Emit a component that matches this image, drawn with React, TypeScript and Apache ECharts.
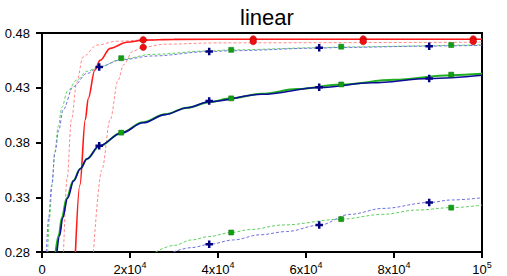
import React, { useEffect, useRef } from "react";
import * as echarts from "echarts";

const titleText = "linear";
const xTicks = [0, 20000, 40000, 60000, 80000, 100000];
const yTicks = [0.28, 0.33, 0.38, 0.43, 0.48];

// Curves (x, y)
const redSolid: number[][] = [
  [7600, 0.28], [8600, 0.341], [9850, 0.401], [10500, 0.42], [12000, 0.446], [13200, 0.455],
  [15500, 0.466], [19300, 0.4715], [23000, 0.4735], [30000, 0.4742], [50000, 0.4743], [100000, 0.4743],
];
const redDashEarly: number[][] = [
  [4900, 0.28], [5700, 0.347], [6700, 0.401], [7900, 0.435], [9300, 0.458], [12500, 0.469],
  [17000, 0.4725], [25000, 0.474], [50000, 0.4743], [100000, 0.4743],
];
const redDashLate: number[][] = [
  [11700, 0.28], [13600, 0.355], [15500, 0.401], [17300, 0.437], [18500, 0.451], [20700, 0.4635],
  [23000, 0.467], [28000, 0.4698], [40000, 0.471], [100000, 0.4716],
];
const greenUpper: number[][] = [
  [1300, 0.28], [1700, 0.311], [2300, 0.341], [2900, 0.371], [3700, 0.395], [4500, 0.412],
  [5800, 0.427], [7900, 0.437], [10200, 0.445], [13000, 0.449], [18000, 0.456], [25000, 0.4605],
  [38000, 0.4636], [43000, 0.4646], [63000, 0.4665], [68000, 0.4672], [88000, 0.4682],
  [93000, 0.4688], [100000, 0.4692],
];
const blueUpper: number[][] = [
  [1000, 0.28], [1500, 0.311], [2200, 0.341], [2950, 0.371], [3800, 0.391], [4800, 0.41],
  [7100, 0.431], [10200, 0.443], [13000, 0.449], [18000, 0.4555], [25000, 0.459], [38000, 0.463],
  [43000, 0.4638], [63000, 0.4662], [68000, 0.4668], [88000, 0.468], [93000, 0.4683], [100000, 0.4688],
];
const greenSolid: number[][] = [
  [3100, 0.28], [3800, 0.295], [4500, 0.311], [5600, 0.329], [7100, 0.345], [8700, 0.356],
  [10200, 0.365], [13000, 0.3765], [18000, 0.389], [23000, 0.3985], [28000, 0.4058], [33000, 0.4118],
  [38000, 0.4168], [43000, 0.4203], [50000, 0.4245], [58000, 0.4288], [68000, 0.433], [80000, 0.4372],
  [93000, 0.4415], [100000, 0.4428],
];
const blueSolid: number[][] = [
  [3400, 0.28], [4000, 0.295], [4700, 0.311], [5800, 0.329], [7200, 0.345], [8700, 0.356],
  [10200, 0.365], [13000, 0.377], [18000, 0.3885], [23000, 0.398], [28000, 0.4055], [33000, 0.4118],
  [38000, 0.4172], [50000, 0.424], [63000, 0.4302], [75000, 0.4345], [88000, 0.4384],
  [100000, 0.4414],
];
const greenLower: number[][] = [
  [25800, 0.28], [30000, 0.286], [34000, 0.291], [37800, 0.294], [43000, 0.2978], [47300, 0.3005],
  [54800, 0.3047], [68000, 0.31], [77500, 0.3144], [85200, 0.3183], [93000, 0.3205], [100000, 0.3228],
];
const blueLower: number[][] = [
  [29800, 0.28], [34000, 0.284], [38000, 0.287], [43500, 0.291], [49500, 0.2957], [55600, 0.2987],
  [63000, 0.3045], [70000, 0.3144], [77500, 0.3198], [88000, 0.3252], [93000, 0.3275], [100000, 0.3295],
];

// Markers
const redCircles: number[][] = [
  [23000, 0.4737], [23000, 0.467],
  [48000, 0.4745], [48000, 0.4722], [73000, 0.4745], [73000, 0.4722], [98000, 0.4745], [98000, 0.4722],
];
const bluePlus: number[][] = [
  [13000, 0.449], [38000, 0.463], [63000, 0.4665], [88000, 0.468],
  [13000, 0.377], [38000, 0.4178], [63000, 0.4305], [88000, 0.4384],
  [38000, 0.287], [63000, 0.3047], [88000, 0.3252],
];
const greenSquares: number[][] = [
  [18000, 0.457], [43000, 0.4646], [68000, 0.4675], [93000, 0.469],
  [18000, 0.389], [43000, 0.4203], [68000, 0.433], [93000, 0.442],
  [43000, 0.2978], [68000, 0.31], [93000, 0.3205],
];

const FONT = "Liberation Sans, Arial, sans-serif";
const PLUS = "path://M3,0 L6,0 L6,3 L9,3 L9,6 L6,6 L6,9 L3,9 L3,6 L0,6 L0,3 L3,3 Z";

function lineSeries(data: number[][], color: string, width: number, dashed: boolean, z: number) {
  return {
    type: "line",
    data,
    showSymbol: false,
    symbol: "none",
    smooth: 0.35,
    smoothMonotone: "x",
    clip: true,
    z,
    lineStyle: { color, width, type: dashed ? [3, 2] : "solid" },
  };
}

export default function App() {
  const ref = useRef<HTMLDivElement>(null);
  useEffect(() => {
    if (!ref.current) return;
    const chart = echarts.init(ref.current, undefined, { renderer: "svg" });
    chart.setOption({
      animation: false,
      backgroundColor: "#fff",
      title: {
        text: titleText,
        left: 235,
        top: 1,
        textStyle: { fontFamily: FONT, fontSize: 22, fontWeight: "normal", color: "#000" },
      },
      grid: {
        left: 42, right: 25, top: 33, bottom: 22,
        show: true, borderColor: "#000", borderWidth: 2, containLabel: false,
      },
      xAxis: {
        type: "value",
        min: xTicks[0],
        max: xTicks[xTicks.length - 1],
        interval: 20000,
        axisLine: { lineStyle: { color: "#000", width: 2 } },
        axisTick: { show: true, inside: false, length: 6, lineStyle: { color: "#000", width: 2 } },
        splitLine: { show: false },
        axisLabel: {
          margin: 8,
          color: "#000",
          fontFamily: FONT,
          fontSize: 13,
          formatter: (v: number) => {
            if (v === 0) return "{b|0}";
            if (v === 100000) return "{b|10}{s|5}";
            return "{b|" + Math.round(v / 10000) + "x10}{s|4}";
          },
          rich: {
            b: { fontFamily: FONT, fontSize: 13, color: "#000", verticalAlign: "bottom", lineHeight: 16 },
            s: { fontFamily: FONT, fontSize: 9, color: "#000", verticalAlign: "top", lineHeight: 16 },
          },
        },
      },
      yAxis: {
        type: "value",
        min: yTicks[0],
        max: yTicks[yTicks.length - 1],
        interval: 0.05,
        axisLine: { lineStyle: { color: "#000", width: 2 } },
        axisTick: { show: true, inside: false, length: 6, lineStyle: { color: "#000", width: 2 } },
        splitLine: { show: false },
        axisLabel: {
          margin: 12,
          color: "#000",
          fontFamily: FONT,
          fontSize: 13,
          formatter: (v: number) => v.toFixed(2),
        },
      },
      series: [
        lineSeries(redDashEarly, "#ff8a8a", 1, true, 2),
        lineSeries(redDashLate, "#ff8a8a", 1, true, 2),
        lineSeries(greenUpper, "#5fd05f", 1, true, 2),
        lineSeries(blueUpper, "#7070e0", 1, true, 2),
        lineSeries(greenLower, "#5fd05f", 1, true, 2),
        lineSeries(blueLower, "#7070e0", 1, true, 2),
        lineSeries(redSolid, "#ff1a1a", 1.6, false, 3),
        lineSeries(greenSolid, "#1fae1f", 2, false, 3),
        lineSeries(blueSolid, "#0c0c96", 1.6, false, 4),
        {
          type: "scatter",
          data: redCircles,
          symbol: "circle",
          symbolSize: 6.5,
          z: 6,
          itemStyle: { color: "#ee1010", borderColor: "#c00000", borderWidth: 0.6, opacity: 1 },
        },
        {
          type: "scatter",
          data: greenSquares,
          symbol: "rect",
          symbolSize: 5,
          z: 6,
          itemStyle: { color: "#12a012", borderColor: "#0a700a", borderWidth: 0.5, opacity: 1 },
        },
        {
          type: "scatter",
          data: bluePlus,
          symbol: PLUS,
          symbolSize: 7.5,
          z: 7,
          itemStyle: { color: "#000080", opacity: 1 },
        },
      ],
    });
    return () => chart.dispose();
  }, []);
  return (
    <div
      ref={ref}
      style={{ position: "fixed", left: 0, top: 0, width: 507, height: 276, background: "#fff" }}
    />
  );
}
